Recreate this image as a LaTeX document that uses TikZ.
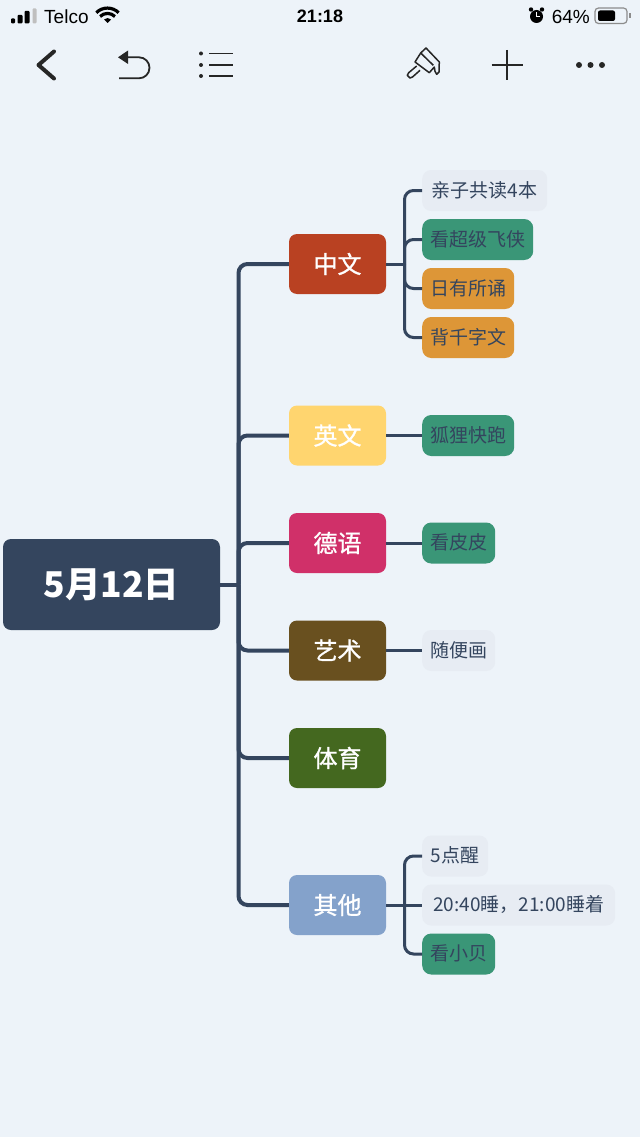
\documentclass[tikz,border=0pt]{standalone}
\usepackage{fontspec}
\setmainfont{Noto Sans CJK SC}
\newfontfamily\statusfont{Liberation Sans}
\newfontfamily\medfont[FakeBold=1]{Noto Sans CJK SC}
\usepackage{xcolor}
\definecolor{pagebg}{HTML}{EDF3F9}
\definecolor{linecol}{HTML}{34455E}
\definecolor{leafgrey}{HTML}{E7ECF3}
\definecolor{leafgreen}{HTML}{3A9677}
\definecolor{leaforange}{HTML}{DD9637}
\tikzset{
  rootnode/.style={fill=linecol,text=white,rounded corners=8pt,minimum width=217pt,minimum height=91pt,inner sep=0pt,font=\fontsize{35.5}{40}\selectfont\bfseries},
  topic/.style={text=white,rounded corners=8pt,minimum width=97pt,minimum height=60pt,inner sep=0pt,font=\medfont\fontsize{24}{28}\selectfont},
  leaf/.style={anchor=west,text=linecol,rounded corners=9pt,minimum height=41pt,inner sep=0pt,text height=15.5pt,text depth=2.5pt,font=\fontsize{19}{23}\selectfont},
  trunkline/.style={draw=linecol,line width=4pt,rounded corners=9pt},
  leafline/.style={draw=linecol,line width=3pt,rounded corners=9pt},
  icon/.style={line width=1.8pt,black!85}
}
\begin{document}
\begin{tikzpicture}[x=1pt,y=-1pt]
  \fill[pagebg] (0,0) rectangle (640,1137);
  \useasboundingbox (0,0) rectangle (640,1137);

  \node[rootnode] (root) at (111.5,584.5) {5月12日};
  \node[topic,fill={rgb,255:red,185;green,65;blue,34}] (zhong) at (337.5,264) {中文};
  \node[topic,fill={rgb,255:red,255;green,213;blue,111}] (ying) at (337.5,435.5) {英文};
  \node[topic,fill={rgb,255:red,208;green,48;blue,105}] (de) at (337.5,543) {德语};
  \node[topic,fill={rgb,255:red,105;green,80;blue,31}] (yi) at (337.5,650.5) {艺术};
  \node[topic,fill={rgb,255:red,68;green,104;blue,31}] (ti) at (337.5,758) {体育};
  \node[topic,fill={rgb,255:red,132;green,162;blue,203}] (qi) at (337.5,905) {其他};

  \node[leaf,fill=leafgrey,minimum width=125pt] (z1) at (422,190.5) {亲子共读4本};
  \node[leaf,fill=leafgreen,minimum width=111pt] (z2) at (422,239.5) {看超级飞侠};
  \node[leaf,fill=leaforange,minimum width=92pt] (z3) at (422,288.5) {日有所诵};
  \node[leaf,fill=leaforange,minimum width=92pt] (z4) at (422,337.5) {背千字文};
  \node[leaf,fill=leafgreen,minimum width=92pt] (y1) at (422,435.5) {狐狸快跑};
  \node[leaf,fill=leafgreen,minimum width=73pt] (d1) at (422,543) {看皮皮};
  \node[leaf,fill=leafgrey,minimum width=73pt] (a1) at (422,650.5) {随便画};
  \node[leaf,fill=leafgrey,minimum width=66pt] (q1) at (422,856) {5点醒};
  \node[leaf,fill=leafgrey,minimum width=193pt] (q2) at (422,905) {20:40睡，21:00睡着};
  \node[leaf,fill=leafgreen,minimum width=73pt] (q3) at (422,954) {看小贝};

  \coordinate (trunk) at (238.5,584.5);
  \coordinate (zbar) at (404.5,264);
  \coordinate (qbar) at (404.5,905);

  \draw[trunkline] (root.east) -- (trunk);
  \draw[trunkline] (trunk) |- (zhong.west);
  \draw[trunkline] (trunk) |- (ying.west);
  \draw[trunkline] (trunk) |- (de.west);
  \draw[trunkline] (trunk) |- (yi.west);
  \draw[trunkline] (trunk) |- (ti.west);
  \draw[trunkline] (trunk) |- (qi.west);

  \draw[leafline] (zhong.east) -- (zbar);
  \draw[leafline] (zbar) |- (z1.west);
  \draw[leafline] (zbar) |- (z2.west);
  \draw[leafline] (zbar) |- (z3.west);
  \draw[leafline] (zbar) |- (z4.west);
  \draw[leafline] (ying.east) -- (y1.west);
  \draw[leafline] (de.east) -- (d1.west);
  \draw[leafline] (yi.east) -- (a1.west);
  \draw[leafline] (qi.east) -- (q2.west);
  \draw[leafline] (qbar) |- (q1.west);
  \draw[leafline] (qbar) |- (q3.west);

  % status bar
  \node[anchor=west,font=\statusfont\fontsize{19}{21}\selectfont,inner sep=0pt] (telco) at (44,16.5) {Telco};
  \node[font=\statusfont\fontsize{18}{20}\selectfont\bfseries,inner sep=0pt] (clock) at (320,16.5) {21:18};
  \node[anchor=east,font=\statusfont\fontsize{19}{21}\selectfont,inner sep=0pt] (percent) at (590,16.5) {64\%};
  \fill[rounded corners=1pt] (11,18.5) rectangle (15,23.5);
  \fill[rounded corners=1pt] (17.5,15) rectangle (22.5,23.5);
  \fill[rounded corners=1pt] (24.5,11) rectangle (29.5,23.5);
  \fill[black!25,rounded corners=1pt] (32.5,8.5) rectangle (36.5,23.5);
  \fill (107.5,23) -- ++(-3.5,-3.5) arc (225:315:5) -- cycle;
  \draw[line width=3.2pt] (100.1,16.5) arc (225:315:10.5);
  \draw[line width=3.2pt] (96.3,12.7) arc (225:315:15.8);
  \fill (536.5,16.5) circle (6.5);
  \fill (531,9.5) circle (2.2);
  \fill (542,9.5) circle (2.2);
  \draw[white,line width=1pt] (536.5,12.5) -- (536.5,17) -- (539.5,17);
  \draw[black!45,line width=1.2pt,rounded corners=3.5pt] (595,8) rectangle (627,23.5);
  \fill[rounded corners=2pt] (598,10.5) rectangle (615,21);
  \fill[black!45] (629,13.5) rectangle (630.5,18.5);

  % toolbar
  \draw[line width=4pt,line cap=round,line join=round,black!85] (54,51.5) -- (38.5,65) -- (54,78.5);
  \fill[black!85] (118,57.3) -- (128,50.5) -- (128,64) -- cycle;
  \draw[icon] (127,57.3) -- (139,57.3) arc (-90:90:10.5) -- (119,78.3);
  \foreach \ypos in {53.5,65,76}{
    \fill[black!85] (201,\ypos) circle (2);
    \draw[icon] (209,\ypos) -- (233,\ypos);
  }
  \draw[icon] (491.5,65) -- (522.5,65);
  \draw[icon] (507,50) -- (507,80);
  \foreach \xpos in {579,590.5,602}{
    \fill[black!85] (\xpos,65) circle (3);
  }
  % brush
  \draw[icon,line width=1.5pt,line join=round] (420.7,53) -- (426,48) -- (439.3,62) -- (439,72) -- (436.7,74.3) -- (435,71.3) -- (434.3,67) -- (429.3,72.7) -- (415,62) -- cycle;
  \draw[icon,line width=1.5pt] (420.7,53) -- (433.3,65.3);
  \draw[icon,line width=1.5pt,line join=round] (416.7,66) -- (408.7,72.7) -- (407.3,75.3) -- (410,78) -- (412.5,77) -- (420,70.3);
\end{tikzpicture}
\end{document}
